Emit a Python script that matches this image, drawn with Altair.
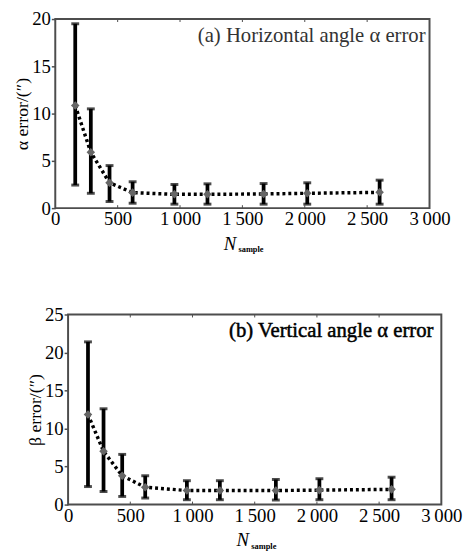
import altair as alt
import pandas as pd

# ---- data ----
n_sample = [160, 285, 435, 620, 955, 1220, 1670, 2020, 2600]

alpha_mean = [10.85, 5.9, 2.68, 1.64, 1.46, 1.46, 1.5, 1.57, 1.67]
alpha_low = [2.44, 1.57, 0.7, 0.52, 0.42, 0.42, 0.42, 0.42, 0.42]
alpha_high = [19.5, 10.5, 4.5, 2.79, 2.5, 2.57, 2.6, 2.68, 2.96]

beta_mean = [11.85, 7.0, 3.79, 2.28, 1.85, 1.85, 1.85, 1.9, 2.0]
beta_low = [2.37, 1.72, 1.07, 0.86, 0.64, 0.64, 0.6, 0.64, 0.64]
beta_high = [21.4, 12.6, 6.6, 3.79, 3.14, 3.14, 3.3, 3.4, 3.6]

x_ticks = [0, 500, 1000, 1500, 2000, 2500, 3000]
alpha_ticks = [0, 5, 10, 15, 20]
beta_ticks = [0, 5, 10, 15, 20, 25]

SERIF = "Liberation Serif"
FRAME = "#4d4d4d"


def panel(mean, low, high, ymax, yticks, ytitle, label, label_color, label_stroke,
          w, h, label_x, label_y, n_x, n_y, s_x, s_y):
    df = pd.DataFrame({"n": n_sample, "mean": mean, "low": low, "high": high})
    xaxis = alt.Axis(values=x_ticks, ticks=False, domain=False, grid=False, title=None,
                     labelExpr="replace(format(datum.value, ','), ',', '\u2009')",
                     labelPadding=2, labelFlush=False)
    yaxis = alt.Axis(values=yticks, grid=False, domain=False, tickSize=4,
                     labelPadding=1, title=ytitle, titlePadding=0)
    xs = alt.Scale(domain=[0, 3000], nice=False)
    ys = alt.Scale(domain=[0, ymax], nice=False)
    X = alt.X("n:Q", scale=xs, axis=xaxis)
    base = alt.Chart(df)
    bars = base.mark_rule(color="black", strokeWidth=3.8).encode(
        x=X, y=alt.Y("low:Q", scale=ys, axis=yaxis), y2="high:Q")
    cap_lo = base.mark_tick(orient="horizontal", size=8, thickness=3, color="black").encode(
        x=X, y=alt.Y("low:Q", scale=ys, axis=yaxis))
    cap_hi = base.mark_tick(orient="horizontal", size=8, thickness=3, color="black").encode(
        x=X, y=alt.Y("high:Q", scale=ys, axis=yaxis))
    line = base.mark_line(color="black", strokeWidth=3.5, strokeDash=[3, 3]).encode(
        x=X, y=alt.Y("mean:Q", scale=ys, axis=yaxis))
    pts = base.mark_point(shape="diamond", filled=True, color="#666666", size=75, opacity=1).encode(
        x=X, y=alt.Y("mean:Q", scale=ys, axis=yaxis))

    tdf = pd.DataFrame({"n": x_ticks[1:-1]})
    tick_b = alt.Chart(tdf).mark_rule(color=FRAME, strokeWidth=1).encode(
        x=X, y=alt.value(h), y2=alt.value(h - 3))
    tick_t = alt.Chart(tdf).mark_rule(color=FRAME, strokeWidth=1).encode(
        x=X, y=alt.value(0), y2=alt.value(3))

    ldf = pd.DataFrame({"t": [label]})
    lab = alt.Chart(ldf).mark_text(align="right", baseline="alphabetic", font=SERIF, fontSize=21,
                                   color=label_color, stroke=label_color,
                                   strokeWidth=label_stroke).encode(
        x=alt.value(label_x), y=alt.value(label_y), text="t:N")
    ndf = pd.DataFrame({"t": ["N"]})
    nlab = alt.Chart(ndf).mark_text(align="left", baseline="alphabetic", font=SERIF, fontSize=19,
                                    fontStyle="italic", color="black").encode(
        x=alt.value(n_x), y=alt.value(n_y), text="t:N")
    sdf = pd.DataFrame({"t": ["sample"]})
    slab = alt.Chart(sdf).mark_text(align="left", baseline="alphabetic", font=SERIF, fontSize=8.5,
                                    fontWeight="bold", color="black").encode(
        x=alt.value(s_x), y=alt.value(s_y), text="t:N")

    return alt.layer(bars, cap_lo, cap_hi, line, pts, tick_b, tick_t, lab, nlab, slab).properties(
        width=w, height=h, view=alt.ViewBackground(stroke=FRAME, strokeWidth=2))


def spacer(w):
    return alt.Chart(pd.DataFrame({"a": [0]})).mark_rect(opacity=0).encode(
        x=alt.value(0), x2=alt.value(w), y=alt.value(0), y2=alt.value(1)).properties(width=w, height=1)


top = panel(alpha_mean, alpha_low, alpha_high, 20, alpha_ticks, "α error/(″)",
            "(a)  Horizontal  angle α error", "#333333", 0,
            380, 192, 376, 23, 171, 234, 186, 237)
bottom = panel(beta_mean, beta_low, beta_high, 25, beta_ticks, "β error/(″)",
               "(b)  Vertical  angle α error", "black", 0.5,
               379, 193, 371, 23, 171, 235, 186, 238)

chart = alt.vconcat(
    alt.hconcat(spacer(2), top, spacing=0),
    alt.hconcat(spacer(15), bottom, spacing=0),
    spacing=50,
).properties(
    padding={"left": 1, "top": -3, "right": 0, "bottom": 0}
).configure_view(
    stroke="transparent"
).configure_axis(
    labelFont=SERIF, labelFontSize=19, labelColor="black",
    titleFont=SERIF, titleFontSize=18, titleFontWeight="normal", titleColor="black",
    tickColor=FRAME, tickWidth=1.5
)

chart.save("out.html", embed_options={"renderer": "svg", "actions": False})
